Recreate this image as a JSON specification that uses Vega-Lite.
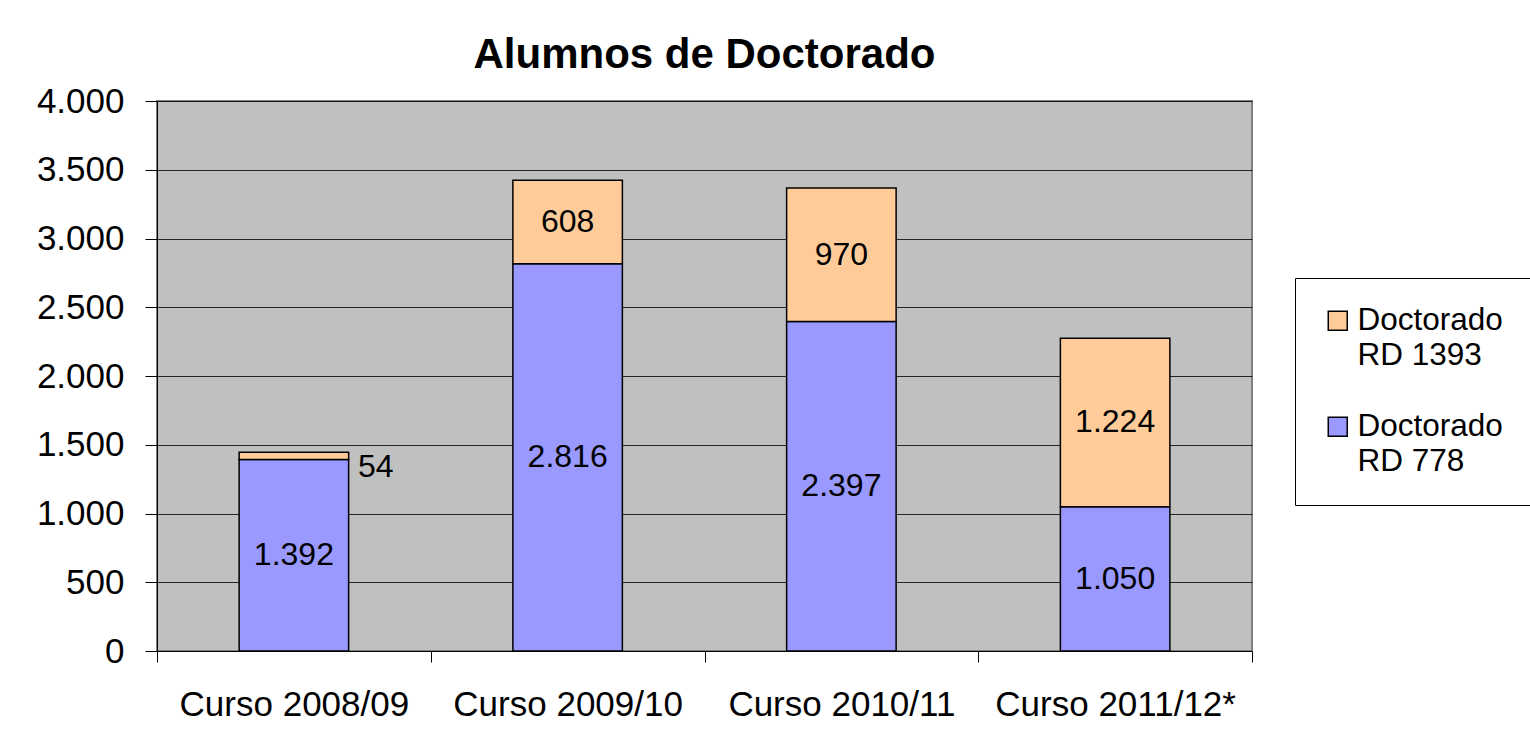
{
  "$schema": "https://vega.github.io/schema/vega-lite/v6.json",
  "width": 1095,
  "height": 550,
  "autosize": "none",
  "padding": {"left": 157, "top": 101, "right": 278, "bottom": 88},
  "background": "white",
  "title": {
    "text": "Alumnos de Doctorado",
    "font": "Liberation Sans",
    "fontSize": 42,
    "fontWeight": "bold",
    "color": "black",
    "anchor": "middle",
    "offset": 7
  },
  "data": {
    "values": [
      {"curso": "Curso 2008/09", "serie": "Doctorado RD 778", "valor": 1392},
      {"curso": "Curso 2008/09", "serie": "Doctorado RD 1393", "valor": 54},
      {"curso": "Curso 2009/10", "serie": "Doctorado RD 778", "valor": 2816},
      {"curso": "Curso 2009/10", "serie": "Doctorado RD 1393", "valor": 608},
      {"curso": "Curso 2010/11", "serie": "Doctorado RD 778", "valor": 2397},
      {"curso": "Curso 2010/11", "serie": "Doctorado RD 1393", "valor": 970},
      {"curso": "Curso 2011/12*", "serie": "Doctorado RD 778", "valor": 1050},
      {"curso": "Curso 2011/12*", "serie": "Doctorado RD 1393", "valor": 1224}
    ]
  },
  "encoding": {
    "x": {
      "field": "curso",
      "type": "nominal",
      "sort": null,
      "scale": {"paddingInner": 0, "paddingOuter": 0},
      "axis": {
        "title": null,
        "labelAngle": 0,
        "tickBand": "extent",
        "tickSize": 11,
        "tickColor": "black",
        "domainColor": "black",
        "labelFontSize": 35,
        "labelFont": "Liberation Sans",
        "labelColor": "black",
        "labelPadding": 25,
        "labelLimit": 400,
        "grid": false
      }
    }
  },
  "layer": [
    {
      "mark": {"type": "bar", "stroke": "black", "strokeWidth": 1.5, "width": {"band": 0.4}},
      "encoding": {
        "y": {
          "field": "valor",
          "type": "quantitative",
          "stack": "zero",
          "scale": {"domain": [0, 4000], "nice": false},
          "axis": {
            "title": null,
            "values": [0, 500, 1000, 1500, 2000, 2500, 3000, 3500, 4000],
            "format": ",d",
            "labelFontSize": 35,
            "labelFont": "Liberation Sans",
            "labelColor": "black",
            "tickSize": 12,
            "tickColor": "black",
            "domainColor": "black",
            "labelPadding": 21,
            "grid": true,
            "gridColor": "black",
            "gridOpacity": 0.8
          }
        },
        "color": {
          "field": "serie",
          "type": "nominal",
          "scale": {
            "domain": ["Doctorado RD 1393", "Doctorado RD 778"],
            "range": ["#FFCC99", "#9999FF"]
          },
          "legend": {
            "title": null,
            "orient": "none",
            "legendX": 1138,
            "legendY": 177,
            "fillColor": "white",
            "strokeColor": "black",
            "padding": 27,
            "symbolType": "square",
            "symbolSize": 361,
            "symbolStrokeColor": "black",
            "symbolStrokeWidth": 1.5,
            "symbolOpacity": 1,
            "labelFontSize": 31.5,
            "labelFont": "Liberation Sans",
            "labelColor": "black",
            "labelLimit": 400,
            "labelOffset": 4,
            "rowPadding": 38,
            "labelExpr": "datum.label == 'Doctorado RD 1393' ? ['Doctorado', 'RD 1393'] : ['Doctorado', 'RD 778']"
          }
        },
        "order": {"field": "serie", "sort": "descending"}
      }
    },
    {
      "transform": [
        {"stack": "valor", "groupby": ["curso"], "sort": [{"field": "serie", "order": "descending"}], "as": ["v0", "v1"]},
        {"calculate": "(datum.v0 + datum.v1) / 2", "as": "mid"},
        {"filter": "datum.valor >= 100"}
      ],
      "mark": {"type": "text", "fontSize": 32, "font": "Liberation Sans", "color": "black"},
      "encoding": {
        "y": {"field": "mid", "type": "quantitative"},
        "text": {"field": "valor", "type": "quantitative", "format": ",d"}
      }
    },
    {
      "transform": [
        {"stack": "valor", "groupby": ["curso"], "sort": [{"field": "serie", "order": "descending"}], "as": ["v0", "v1"]},
        {"calculate": "(datum.v0 + datum.v1) / 2", "as": "mid"},
        {"filter": "datum.valor < 100"}
      ],
      "mark": {"type": "text", "fontSize": 32, "font": "Liberation Sans", "color": "black", "align": "left", "dx": 64, "dy": 11},
      "encoding": {
        "y": {"field": "mid", "type": "quantitative"},
        "text": {"field": "valor", "type": "quantitative", "format": ",d"}
      }
    }
  ],
  "config": {
    "locale": {
      "number": {"decimal": ",", "thousands": ".", "grouping": [3], "currency": ["", " €"]}
    },
    "style": {"guide-label": {"lineHeight": 35}},
    "view": {"fill": "#C0C0C0", "stroke": "#808080", "strokeWidth": 2}
  }
}
